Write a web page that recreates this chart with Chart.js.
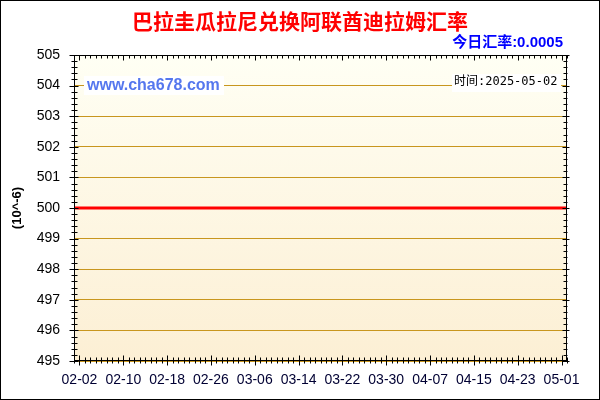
<!DOCTYPE html>
<html>
<head>
<meta charset="utf-8">
<script src="https://cdn.jsdelivr.net/npm/chart.js@4.4.1/dist/chart.umd.min.js"></script>
<style>
  html, body { margin: 0; padding: 0; background: #fff; }
  canvas { display: block; }
</style>
</head>
<body>
<canvas id="myChart" width="600" height="400"></canvas>
<script>
const titleText = "巴拉圭瓜拉尼兑换阿联酋迪拉姆汇率";
const todayRate = "今日汇率:0.0005";
const siteText = "www.cha678.com";
const timeText = "时间:2025-05-02";
const yUnit = "(10^-6)";

// daily rate x 10^6, from 02-01 to 05-02 (91 days)
const rates = [
  500, 500, 500, 500, 500, 500, 500, 500, 500, 500,
  500, 500, 500, 500, 500, 500, 500, 500, 500, 500,
  500, 500, 500, 500, 500, 500, 500, 500, 500, 500,
  500, 500, 500, 500, 500, 500, 500, 500, 500, 500,
  500, 500, 500, 500, 500, 500, 500, 500, 500, 500,
  500, 500, 500, 500, 500, 500, 500, 500, 500, 500,
  500, 500, 500, 500, 500, 500, 500, 500, 500, 500,
  500, 500, 500, 500, 500, 500, 500, 500, 500, 500,
  500, 500, 500, 500, 500, 500, 500, 500, 500, 500,
  500
];
const tickLabels = ["02-02", "02-10", "02-18", "02-26", "03-06", "03-14",
  "03-22", "03-30", "04-07", "04-15", "04-23", "05-01"];
const tickDays = [1, 9, 17, 25, 33, 41, 49, 57, 65, 73, 81, 89];
const yMin = 495;
const yMax = 505;

const gridColor = "#c8961e";

// background, frame ticks and the text overlays
const decor = {
  id: "decor",
  beforeDraw(chart) {
    const ctx = chart.ctx;
    const a = chart.chartArea;
    ctx.save();
    ctx.fillStyle = "#fff";
    ctx.fillRect(0, 0, chart.width, chart.height);
    const g = ctx.createLinearGradient(0, a.top, 0, a.bottom);
    g.addColorStop(0, "#fffff4");
    g.addColorStop(1, "#fcefd4");
    ctx.fillStyle = g;
    ctx.fillRect(a.left, a.top, a.right - a.left, a.bottom - a.top);
    ctx.restore();
  },
  beforeDatasetsDraw(chart) {
    const ctx = chart.ctx;
    ctx.save();
    // watermarks
    ctx.fillStyle = "#fff";
    ctx.fillRect(84, 76, 140, 19);
    ctx.fillRect(452, 74, 109, 18);
    ctx.textBaseline = "middle";
    ctx.textAlign = "left";
    ctx.fillStyle = "#5577ee";
    ctx.font = "bold 16px 'Liberation Sans', Arial, sans-serif";
    ctx.fillText(siteText, 87, 85.5);
    ctx.fillStyle = "#000";
    ctx.font = "12px 'DejaVu Sans Mono', 'Noto Sans CJK SC', monospace";
    ctx.fillText(timeText, 454, 82);
    ctx.restore();
  },
  afterDraw(chart) {
    const ctx = chart.ctx;
    const a = chart.chartArea;
    const xs = chart.scales.x;
    const ys = chart.scales.y;
    ctx.save();
    ctx.strokeStyle = "#000";
    ctx.lineWidth = 1;
    // outer border
    ctx.strokeRect(0.5, 0.5, chart.width - 1, chart.height - 1);
    // plot frame
    const L = Math.round(a.left) + 0.5, R = Math.round(a.right) - 0.5;
    const T = Math.round(a.top) + 0.5, B = Math.round(a.bottom) - 0.5;
    ctx.strokeRect(L, T, R - L, B - T);
    ctx.beginPath();
    // y ticks, every 0.2
    for (let k = 0; k <= (yMax - yMin) * 5; k++) {
      const v = yMin + k / 5;
      const y = Math.round(ys.getPixelForValue(v)) + 0.5;
      const major = k % 5 === 0;
      const out = major ? 5 : 3, inn = major ? 4 : 3;
      ctx.moveTo(L - out, y); ctx.lineTo(L + inn, y);
      ctx.moveTo(R - inn, y); ctx.lineTo(R + out - 2, y);
    }
    // x ticks, every day
    for (let i = 0; i < rates.length; i++) {
      const x = Math.round(xs.getPixelForValue(i)) + 0.5;
      const major = tickDays.includes(i);
      const up = major ? 5 : 3, down = major ? 5 : 3;
      ctx.moveTo(x, B - up); ctx.lineTo(x, B + down);
      ctx.moveTo(x, T); ctx.lineTo(x, T + (major ? 5 : 3));
    }
    ctx.stroke();
    // titles
    ctx.textBaseline = "middle";
    ctx.textAlign = "center";
    ctx.fillStyle = "#ff0000";
    ctx.font = "bold 21px 'Noto Sans CJK SC', sans-serif";
    ctx.fillText(titleText, 300, 21);
    ctx.textAlign = "right";
    ctx.fillStyle = "#0000ff";
    ctx.font = "bold 15px 'Liberation Sans', 'Noto Sans CJK SC', sans-serif";
    ctx.fillText(todayRate, 563, 43);
    ctx.restore();
  }
};

new Chart("myChart", {
  type: "line",
  data: {
    datasets: [{
      data: rates.map((v, i) => ({ x: i, y: v })),
      borderColor: "#ff0000",
      borderWidth: 3,
      pointRadius: 0,
      tension: 0,
      fill: false
    }]
  },
  options: {
    responsive: false,
    devicePixelRatio: 1,
    animation: false,
    layout: { padding: { top: 55, right: 33, bottom: 0, left: 0 } },
    plugins: {
      legend: { display: false },
      tooltip: { enabled: false }
    },
    scales: {
      x: {
        type: "linear",
        min: 0,
        max: rates.length - 1,
        afterBuildTicks: (s) => { s.ticks = tickDays.map((d) => ({ value: d })); },
        afterFit: (s) => { s.height = 39; },
        grid: { display: false, drawTicks: false },
        border: { display: false },
        ticks: {
          autoSkip: false,
          maxRotation: 0,
          padding: 11,
          color: "#000033",
          font: { family: "'Liberation Sans', Arial, sans-serif", size: 14 },
          callback: (v) => tickLabels[tickDays.indexOf(v)]
        }
      },
      y: {
        min: yMin,
        max: yMax,
        afterFit: (s) => { s.width = 74; },
        grid: { color: gridColor, lineWidth: 1, drawTicks: false },
        border: { display: false },
        ticks: {
          stepSize: 1,
          padding: 14,
          color: "#000",
          font: { family: "'Liberation Sans', Arial, sans-serif", size: 14 }
        },
        title: {
          display: true,
          text: yUnit,
          color: "#000",
          padding: { top: 10, bottom: 0 },
          font: { family: "'Liberation Sans', Arial, sans-serif", size: 13, weight: "bold" }
        }
      }
    }
  },
  plugins: [decor]
});
</script>
</body>
</html>
